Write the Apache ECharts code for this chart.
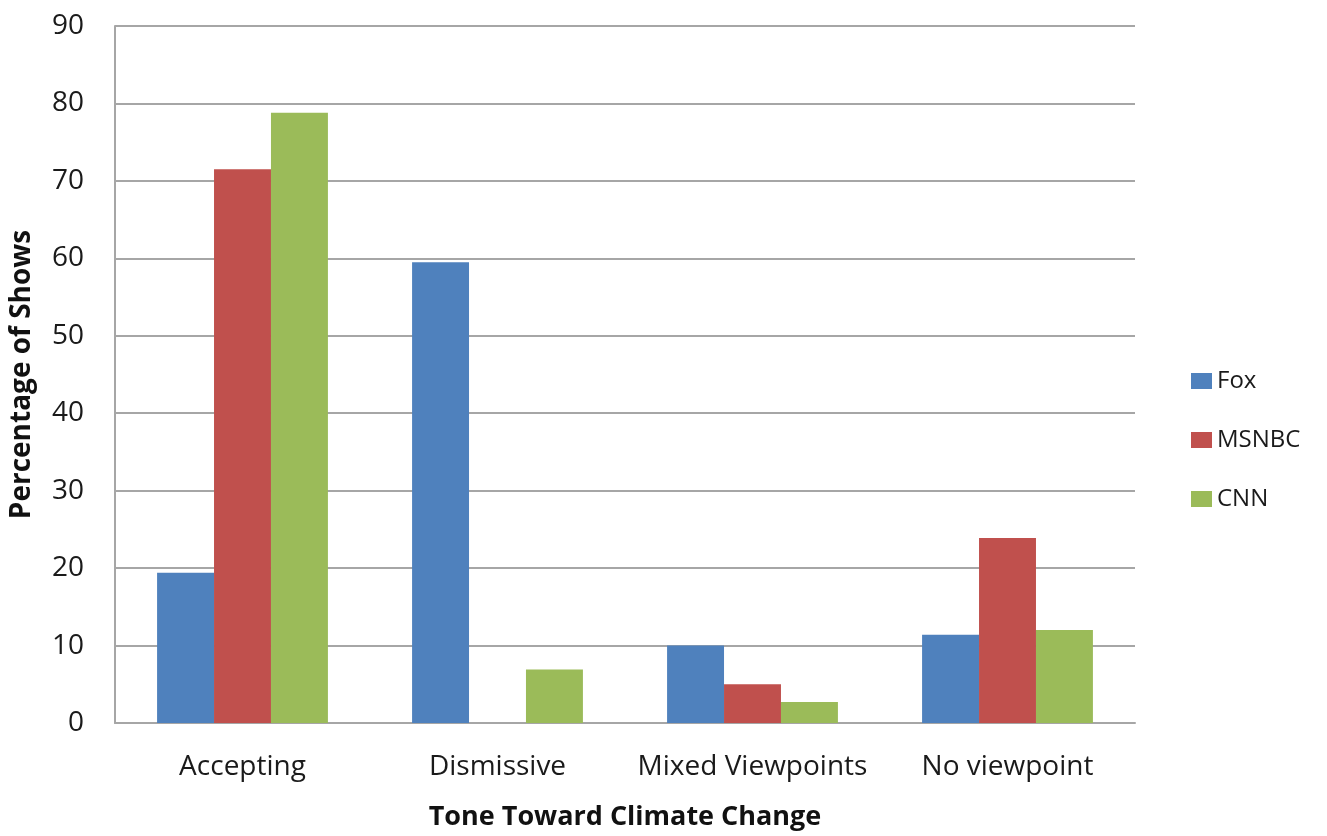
<!DOCTYPE html>
<html>
<head>
<meta charset="utf-8">
<script src="https://cdn.jsdelivr.net/npm/echarts@6/dist/echarts.min.js"></script>
<style>
  html, body { margin: 0; padding: 0; background: #fff; }
  #chart { width: 1327px; height: 836px; }
</style>
</head>
<body>
<div id="chart"></div>
<script>
// categories and series values
const categories = ['Accepting', 'Dismissive', 'Mixed Viewpoints', 'No viewpoint']
const foxValues = [19.4, 59.5, 10.0, 11.4]
const msnbcValues = [71.5, 0, 5.0, 23.9]
const cnnValues = [78.8, 6.9, 2.7, 12.0]

const chart = echarts.init(document.getElementById('chart'))
const font = '"Open Sans", sans-serif'

const option = {
  animation: false,
  textStyle: { fontFamily: font },
  // plot area: 90 gridline at y=26, baseline at y=730
  grid: { left: 115, right: 192, top: 26, bottom: 106, containLabel: false },
  legend: {
    orient: 'vertical',
    left: 1186,
    top: 364,
    itemGap: 35,
    itemWidth: 21,
    itemHeight: 16,
    icon: 'rect',
    textStyle: { fontSize: 24, color: '#1a1a1a', fontFamily: font },
    data: ['Fox', 'MSNBC', 'CNN']
  },
  xAxis: {
    type: 'category',
    data: categories,
    name: 'Tone Toward Climate Change',
    nameLocation: 'middle',
    nameGap: 81,
    nameTextStyle: { fontSize: 27, fontWeight: 'bold', color: '#111' },
    axisLine: { lineStyle: { color: '#a6a6a6', width: 2 } },
    axisTick: { show: false },
    axisLabel: { interval: 0, hideOverlap: false, fontSize: 28, color: '#1a1a1a', margin: 30 }
  },
  yAxis: {
    type: 'value',
    min: 0,
    max: 90,
    interval: 10,
    name: 'Percentage of Shows',
    nameLocation: 'middle',
    nameGap: 79,
    nameTextStyle: { fontSize: 28, fontWeight: 'bold', color: '#111' },
    axisLine: { show: true, lineStyle: { color: '#a6a6a6', width: 2 } },
    axisTick: { show: false },
    axisLabel: { fontSize: 28, color: '#1a1a1a', margin: 31 },
    splitLine: { lineStyle: { color: '#a6a6a6', width: 2 } }
  },
  series: [
    {
      name: 'Fox',
      type: 'bar',
      data: foxValues,
      barGap: '0%',
      barCategoryGap: '33%',
      itemStyle: { color: '#4f81bd' }
    },
    {
      name: 'MSNBC',
      type: 'bar',
      data: msnbcValues,
      itemStyle: { color: '#c0504d' }
    },
    {
      name: 'CNN',
      type: 'bar',
      data: cnnValues,
      itemStyle: { color: '#9bbb59' }
    }
  ]
}
chart.setOption(option)
</script>
</body>
</html>
